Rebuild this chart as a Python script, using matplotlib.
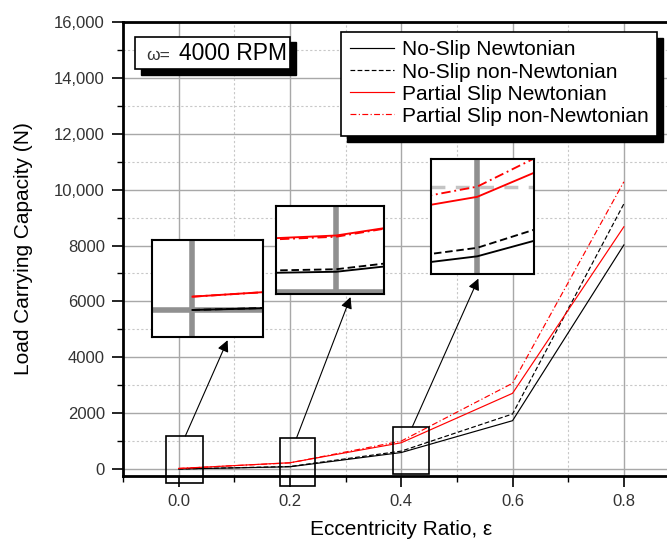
import matplotlib
matplotlib.use('Agg')
import matplotlib.pyplot as plt
from matplotlib.patches import Rectangle
from matplotlib.ticker import MultipleLocator, FuncFormatter
import numpy as np

plt.rcParams['font.family'] = ['Liberation Sans', 'DejaVu Sans']

# ---- data
ecc = [0.0, 0.2, 0.4, 0.6, 0.8]
ns_newt = [0, 80, 590, 1730, 8020]
ns_nonnewt = [0, 90, 640, 1970, 9490]
ps_newt = [20, 225, 940, 2710, 8670]
ps_nonnewt = [20, 220, 1000, 3070, 10280]

labels = ['No-Slip Newtonian', 'No-Slip non-Newtonian',
          'Partial Slip Newtonian', 'Partial Slip non-Newtonian']
series = [ns_newt, ns_nonnewt, ps_newt, ps_nonnewt]
colors = ['black', 'black', 'red', 'red']
styles = ['-', (0, (4, 2)), '-', (0, (5, 2, 1, 2))]

yticks = [0, 2000, 4000, 6000, 8000, 10000, 12000, 14000, 16000]
xticks = [0.0, 0.2, 0.4, 0.6, 0.8]

W, H = 667, 539
fig = plt.figure(figsize=(W / 100, H / 100), dpi=100)


def px_rect(l, t, r, b):
    # pixel box -> figure fraction [left, bottom, width, height]
    return [l / W, 1 - b / H, (r - l) / W, (b - t) / H]


ax = fig.add_axes(px_rect(123, 22, 679.5, 476))
for y, c, s, lab in zip(series, colors, styles, labels):
    ax.plot(ecc, y, color=c, ls=s, lw=0.85, label=lab)

ax.set_xlim(-0.1, 0.9)
ax.set_ylim(-250, 16000)
ax.set_xticks(xticks)
ax.set_yticks(yticks)
ax.xaxis.set_minor_locator(MultipleLocator(0.1))
ax.yaxis.set_minor_locator(MultipleLocator(1000))
ax.xaxis.set_major_formatter(FuncFormatter(lambda v, p: f'{v:.1f}'))
ax.yaxis.set_major_formatter(FuncFormatter(
    lambda v, p: f'{v:,.0f}' if v >= 10000 else f'{v:.0f}'))
ax.grid(which='major', color='#a8a8a8', lw=1.0)
ax.grid(which='minor', color='#c8c8c8', lw=0.8, ls=(0, (2, 2)))
ax.set_axisbelow(True)
ax.tick_params(which='major', direction='out', length=8, width=1.2,
               labelsize=12, labelcolor='#333333', pad=5)
ax.tick_params(which='minor', direction='out', length=4.5, width=1.0)
for sp in ax.spines.values():
    sp.set_linewidth(2)

ax.set_xlabel('Eccentricity Ratio, ε', fontsize=15)
ax.set_ylabel('Load Carrying Capacity (N)', fontsize=15)
ax.xaxis.set_label_coords(0.5, -0.098)
ax.yaxis.set_label_coords(-0.162, 0.5)

# ---- boxes marking the zoomed regions
boxes = [(-0.022, -501, 0.043, 1181), (0.182, -597, 0.245, 1120),
         (0.386, -179, 0.449, 1514)]
for x0, y0, x1, y1 in boxes:
    ax.add_patch(Rectangle((x0, y0), x1 - x0, y1 - y0, fill=False,
                           ec='black', lw=1.2, clip_on=False, zorder=3))

# ---- zoomed insets
insets = [
    (px_rect(151.7, 240, 263.3, 337.3), (-0.0038, 0.0066), (-41, 105)),
    (px_rect(276, 206, 384, 294), (0.1897, 0.2082), (-9, 343)),
    (px_rect(431, 159.3, 534, 274), (0.387, 0.416), (486, 1161)),
]
tails = [(0.012, 1181), (0.212, 1120), (0.420, 1514)]
heads = [(0.68, -0.03), (0.69, -0.035), (0.46, -0.04)]

for (rect, xl, yl), tail, head in zip(insets, tails, heads):
    ia = fig.add_axes(rect)
    for gx in np.arange(-0.1, 1.0, 0.1):
        if abs(gx / 0.2 - round(gx / 0.2)) < 1e-6:
            ia.axvline(gx, color='#909090', lw=4, zorder=0)
    for gy in range(0, 16001, 1000):
        if gy % 2000 == 0:
            ia.axhline(gy, color='#909090', lw=4, zorder=0)
        else:
            ia.axhline(gy, color='#c4c4c4', lw=2.5, ls=(0, (4, 3)), zorder=0)
    for y, c, s in zip(series, colors, styles):
        ia.plot(ecc, y, color=c, ls=s, lw=1.35)
    ia.set_xlim(*xl)
    ia.set_ylim(*yl)
    ia.set_xticks([])
    ia.set_yticks([])
    for sp in ia.spines.values():
        sp.set_linewidth(1.5)
    ax.annotate('', xy=head, xycoords=ia.transAxes, xytext=tail,
                textcoords='data', annotation_clip=False,
                arrowprops=dict(arrowstyle='-|>', color='black', lw=0.8,
                                mutation_scale=17, shrinkA=0, shrinkB=0))

# ---- legend and label box with hard shadow
tf = fig.transFigure


def frame(l, t, r, b, off=5.5):
    x, y, w, h = px_rect(l, t, r, b)
    ax.add_patch(Rectangle((x + off / W, y - off / H), w, h, transform=tf,
                           fc='black', ec='black', clip_on=False, zorder=4))
    ax.add_patch(Rectangle((x, y), w, h, transform=tf, fc='white',
                           ec='black', lw=1.2, clip_on=False, zorder=4.5))


frame(341, 32.3, 657, 136)
leg = ax.legend(loc='upper left', bbox_to_anchor=(341 / W, 1 - 31 / H),
                bbox_transform=tf, frameon=False, fontsize=15,
                handlelength=2.1, handletextpad=0.4, labelspacing=0.15,
                borderpad=0.45, borderaxespad=0)
leg.set_zorder(6)

frame(135, 36.7, 290, 69.3)
ax.text(146.7 / W, 1 - 60 / H, 'ω=', transform=tf, fontsize=12.5,
        color='#333333', ha='left', va='baseline', zorder=6)
ax.text(179 / W, 1 - 60 / H, '4000 RPM', transform=tf, fontsize=16.5,
        ha='left', va='baseline', zorder=6)

fig.savefig('out.png', dpi=100)
